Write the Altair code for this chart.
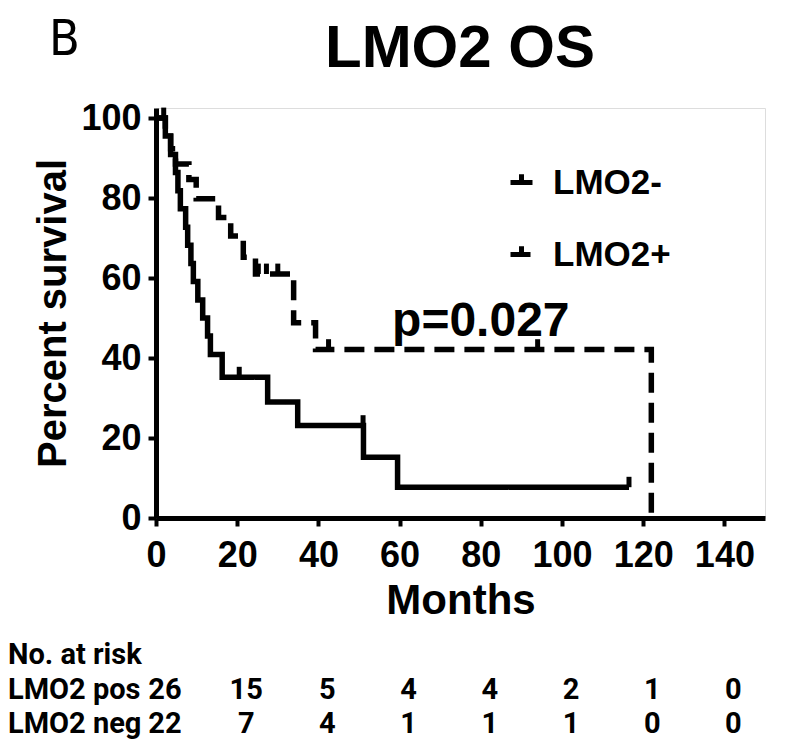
import altair as alt
import pandas as pd

# ---- Kaplan-Meier curves (months, percent survival) ----
neg_t = [0, 2.3, 3.6, 4.8, 5.4, 6.0, 7.3, 7.8, 8.6, 9.2, 10.3, 11.5, 12.7, 13.4,
         16.3, 27.5, 34.9, 51.1, 59.5, 116.5]
neg_s = [100, 95.5, 90.9, 86.4, 81.8, 77.3, 72.7, 68.2, 63.6, 59.1, 54.5, 50.0,
         45.5, 40.9, 35.2, 29.0, 23.1, 15.2, 7.7, 7.7]
neg_cens_t = [20.5, 51.0, 116.5]
neg_cens_s = [35.2, 23.1, 7.7]

pos_t = [0, 2.3, 3.6, 4.8, 8.1, 9.9, 15.4, 18.4, 21.5, 24.5, 33.9, 39.3, 122.0]
pos_s = [100, 96.2, 92.3, 88.5, 84.6, 79.8, 75.1, 70.5, 65.2, 61.0, 48.8, 42.1, 0]
pos_cens_t = [1.9, 25.2, 27.2, 30.0, 42.5, 94.0]
pos_cens_s = [100, 61.0, 61.0, 61.0, 42.1, 42.1]

series_names = ["LMO2-", "LMO2+"]

# ---- number at risk table ----
risk_months = [0, 20, 40, 60, 80, 100, 120, 140]
risk_pos = [26, 15, 5, 4, 4, 2, 1, 0]
risk_neg = [22, 7, 4, 1, 1, 1, 0, 0]
risk_rows = ["LMO2 pos", "LMO2 neg"]

FONT = "Liberation Sans, Arial, Helvetica, sans-serif"
TFONT = "Roboto, Lato, sans-serif"

curves = pd.DataFrame(
    {"series": ["LMO2-"] * len(neg_t) + ["LMO2+"] * len(pos_t),
     "t": neg_t + pos_t, "s": neg_s + pos_s}
)
cens = pd.DataFrame({"t": neg_cens_t + pos_cens_t, "s": neg_cens_s + pos_cens_s})

xs = alt.Scale(domain=[0, 150], nice=False, zero=False)
ys = alt.Scale(domain=[0, 102.5], nice=False)

xaxis = alt.Axis(values=risk_months, title="Months", grid=False,
                 domainWidth=5, domainColor="black", tickWidth=4, tickColor="black",
                 tickSize=8, labelFontSize=36, labelFont=FONT, labelFontWeight="bold",
                 labelColor="black", labelPadding=12, labelFlush=False,
                 titleFontSize=42, titleFont=FONT, titleFontWeight="bold",
                 titleColor="black", titlePadding=7)
yaxis = alt.Axis(values=[0, 20, 40, 60, 80, 100], title="Percent survival", grid=False,
                 domainWidth=5, domainColor="black", tickWidth=4, tickColor="black",
                 tickSize=8, labelFontSize=36, labelFont=FONT, labelFontWeight="bold",
                 labelColor="black", labelPadding=7, labelFlush=False,
                 titleFontSize=40, titleFont=FONT, titleFontWeight="bold",
                 titleColor="black", titlePadding=7)

lines = alt.Chart(curves).mark_line(
    interpolate="step-after", strokeWidth=5.5, color="black", strokeCap="butt"
).encode(
    x=alt.X("t:Q", scale=xs, axis=xaxis),
    y=alt.Y("s:Q", scale=ys, axis=yaxis),
    strokeDash=alt.StrokeDash(
        "series:N",
        scale=alt.Scale(domain=series_names, range=[[1, 0], [20, 10]]),
        legend=alt.Legend(
            title=None, orient="none", legendX=348, legendY=57, padding=0,
            symbolType="M-1,0H1M0,0V-0.75", symbolSize=484, symbolStrokeWidth=5,
            symbolStrokeColor="black", symbolFillColor="transparent",
            labelFontSize=35, labelFont=FONT, labelFontWeight="bold",
            labelColor="black", labelOffset=14, rowPadding=35, labelLimit=300,
        ),
    ),
    detail="series:N",
)

ticks = alt.Chart(cens).mark_rule(strokeWidth=5, color="black").transform_calculate(
    top="datum.s + 2.6"
).encode(x=alt.X("t:Q", scale=xs), y=alt.Y("s:Q", scale=ys), y2="top:Q")

pval = alt.Chart(pd.DataFrame({"t": [80], "s": [49], "label": ["p=0.027"]})).mark_text(
    fontSize=48, font=FONT, fontWeight="bold", color="black", baseline="middle", align="center"
).encode(x=alt.X("t:Q", scale=xs), y=alt.Y("s:Q", scale=ys), text="label:N")

title = alt.Chart(pd.DataFrame({"label": ["LMO2 OS"]})).mark_text(
    fontSize=60, font=FONT, fontWeight="bold", color="black", align="center",
    baseline="alphabetic"
).encode(x=alt.value(304), y=alt.value(-41), text="label:N")

panel = alt.Chart(pd.DataFrame({"label": ["B"]})).mark_text(
    fontSize=50, font="Liberation Sans Narrow, DejaVu Sans Condensed, sans-serif",
    color="black", align="left", baseline="alphabetic"
).encode(x=alt.value(-107), y=alt.value(-53), text="label:N")

def label_text(txt, ypix):
    return alt.Chart(pd.DataFrame({"label": [txt]})).mark_text(
        fontSize=29, font=TFONT, fontWeight="bold", color="black", align="left",
        baseline="middle"
    ).encode(x=alt.value(-148), y=alt.value(ypix), text="label:N")

risk_head = label_text("No. at risk", 547)
row_pos_lbl = label_text(risk_rows[0], 582)
row_neg_lbl = label_text(risk_rows[1], 616)

row_pos = alt.Chart(pd.DataFrame({"t": risk_months, "n": risk_pos})).mark_text(
    fontSize=29, font=TFONT, fontWeight="bold", color="black", align="center",
    baseline="middle", dx=9
).encode(x=alt.X("t:Q", scale=xs), y=alt.value(582), text="n:Q")
row_neg = alt.Chart(pd.DataFrame({"t": risk_months, "n": risk_neg})).mark_text(
    fontSize=29, font=TFONT, fontWeight="bold", color="black", align="center",
    baseline="middle", dx=9
).encode(x=alt.X("t:Q", scale=xs), y=alt.value(616), text="n:Q")

chart = alt.layer(
    lines, ticks, pval, title, panel, risk_head, row_pos_lbl, row_neg_lbl, row_pos, row_neg
).properties(
    width=609, height=410,
    autosize=alt.AutoSizeParams(type="none"),
    padding={"left": 148, "top": 100, "right": 25, "bottom": 225},
).configure_view(stroke=None).configure(background="white")

chart.save("out.html", embed_options={"renderer": "svg", "actions": False})
